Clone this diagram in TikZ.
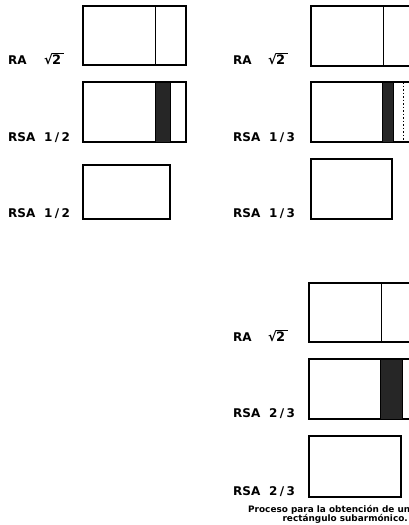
\documentclass[tikz,border=0pt]{standalone}
\usepackage{fontspec}
\setmainfont{DejaVu Sans}
\begin{document}
\begin{tikzpicture}[x=1pt,y=-1pt,
  box/.style={draw=black,line width=1.3pt},
  divline/.style={draw=black,line width=1pt},
  strip/.style={fill=black!85,draw=black,line width=0.6pt},
  lab/.style={anchor=base west,inner sep=0pt,font=\bfseries\fontsize{12}{12}\selectfont},
  captext/.style={inner sep=0pt,font=\bfseries\fontsize{8.9}{9}\selectfont}]
\useasboundingbox (0,0) rectangle (409,525);
\clip (0,0) rectangle (409,525);
\newcommand{\frc}[2]{#1\hspace{2.4pt}/\hspace{2.4pt}#2}
\newcommand{\rtwo}{{\fontsize{13}{13}\selectfont √\kern-0.8pt$\overline{\mbox{2\kern3pt}}$}}
% ---------- left column ----------
\draw[box] (83,6) rectangle (186,65);
\draw[divline] (155,6) -- (155,65);
\node[lab] (l1a) at (8,64) {RA};
\node[lab] (l1b) at (44,64) {\rtwo};
\draw[box] (83,82) rectangle (186,142);
\draw[strip] (155,82) rectangle (170,142);
\node[lab] (l2a) at (8,141) {RSA};
\node[lab] (l2b) at (44,141) {\frc{1}{2}};
\draw[box] (83,165) rectangle (170,219);
\node[lab] (l3a) at (8,217) {RSA};
\node[lab] (l3b) at (44,217) {\frc{1}{2}};
% ---------- right column ----------
\draw[box] (311,6) rectangle (430,66);
\draw[divline] (383,6) -- (383,66);
\node[lab] (r1a) at (233,64) {RA};
\node[lab] (r1b) at (268,64) {\rtwo};
\draw[box] (311,82) rectangle (430,142);
\draw[strip] (382,82) rectangle (393,142);
\draw[line width=0.8pt,dash pattern=on 1.5pt off 2pt] (403,82) -- (403,142);
\node[lab] (r2a) at (233,141) {RSA};
\node[lab] (r2b) at (269,141) {\frc{1}{3}};
\draw[box] (311,159) rectangle (392,219);
\node[lab] (r3a) at (233,217) {RSA};
\node[lab] (r3b) at (269,217) {\frc{1}{3}};
% ---------- third block ----------
\draw[box] (309,283) rectangle (430,342);
\draw[divline] (381,283) -- (381,342);
\node[lab] (t1a) at (233,341) {RA};
\node[lab] (t1b) at (268,341) {\rtwo};
\draw[box] (309,359) rectangle (430,419);
\draw[strip] (380,359) rectangle (402,419);
\node[lab] (t2a) at (233,417) {RSA};
\node[lab] (t2b) at (269,417) {\frc{2}{3}};
\draw[box] (309,436) rectangle (401,497);
\node[lab] (t3a) at (233,495) {RSA};
\node[lab] (t3b) at (269,495) {\frc{2}{3}};
% caption
\node[captext,anchor=base west] (c1) at (248,512) {Proceso para la obtención de un};
\node[captext,anchor=base east] (c2) at (408,521) {rectángulo subarmónico.};
\end{tikzpicture}
\end{document}
